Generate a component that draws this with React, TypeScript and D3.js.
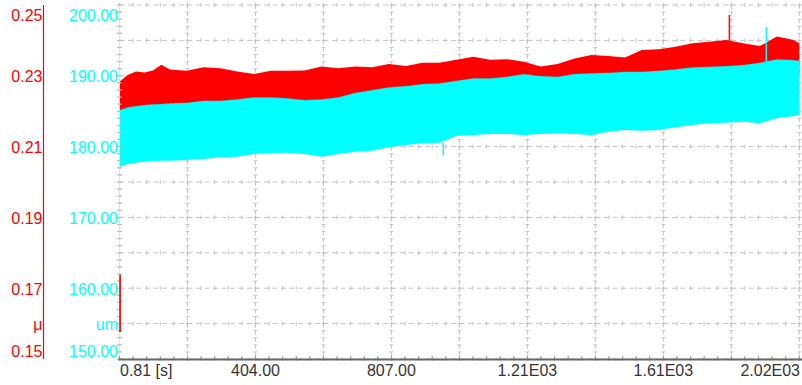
import React from "react";
import * as d3 from "d3";

// time of each envelope reading [s]
const times = [0.81, 25, 50, 75, 100, 125, 150, 200, 250, 300, 350, 400, 450, 500, 550, 600, 650, 700, 750, 800, 850, 900, 950, 1000, 1050, 1100, 1150, 1200, 1250, 1300, 1350, 1400, 1450, 1500, 1550, 1600, 1650, 1700, 1750, 1800, 1850, 1900, 1950, 2000, 2016.8];

// friction coefficient μ (red, left axis): upper and lower envelope of the noisy trace
const frictionUpper = [0.2283, 0.2302, 0.2312, 0.2309, 0.2315, 0.2331, 0.2318, 0.2314, 0.2324, 0.2321, 0.2312, 0.2305, 0.2314, 0.2314, 0.2315, 0.2326, 0.2321, 0.2326, 0.2324, 0.2333, 0.2328, 0.2337, 0.2337, 0.2345, 0.2354, 0.2345, 0.2347, 0.234, 0.2326, 0.2333, 0.2349, 0.2359, 0.2356, 0.2352, 0.2373, 0.2375, 0.2382, 0.2392, 0.2396, 0.2401, 0.2392, 0.2384, 0.2411, 0.2401, 0.2392];
const frictionLower = [0.2163, 0.2171, 0.2175, 0.2178, 0.2179, 0.218, 0.2182, 0.2184, 0.219, 0.219, 0.2194, 0.2199, 0.2199, 0.2196, 0.2192, 0.2194, 0.2199, 0.2212, 0.222, 0.2227, 0.2231, 0.2237, 0.2239, 0.2246, 0.2253, 0.2253, 0.2258, 0.2265, 0.2259, 0.2258, 0.2265, 0.2267, 0.2269, 0.2272, 0.2272, 0.2275, 0.2278, 0.2284, 0.2286, 0.2288, 0.2291, 0.2297, 0.2307, 0.2305, 0.2303];

// displacement [um] (cyan, second axis): upper and lower envelope
const displacementUpper = [185.17, 185.55, 185.73, 185.88, 185.97, 186.02, 186.11, 186.21, 186.49, 186.49, 186.68, 186.96, 186.96, 186.82, 186.58, 186.68, 186.96, 187.62, 187.99, 188.37, 188.56, 188.84, 188.94, 189.31, 189.64, 189.64, 189.88, 190.25, 189.97, 189.88, 190.25, 190.35, 190.44, 190.58, 190.58, 190.73, 190.91, 191.2, 191.29, 191.38, 191.53, 191.85, 192.33, 192.23, 192.14];
const displacementLower = [177.17, 177.54, 177.73, 177.87, 177.97, 178.01, 178.01, 178.11, 178.25, 178.48, 178.58, 178.95, 179.05, 179.14, 178.95, 178.58, 178.95, 179.28, 179.43, 179.9, 180.23, 180.46, 180.56, 181.5, 181.64, 181.78, 181.78, 181.64, 181.78, 181.87, 181.78, 181.64, 182.11, 182.34, 182.25, 182.34, 182.72, 183.05, 183.29, 183.38, 183.52, 183.29, 183.99, 184.32, 184.46];

// isolated spikes: [time, from, to]
const frictionSpikes = [[0.81, 0.1576, 0.1738], [1808, 0.2385, 0.2472]];
const displacementSpikes = [[1919, 191.4, 196.9], [961, 180.6, 178.75]];

// axis labels
const timeTickLabels = ["0.81 [s]", "404.00", "807.00", "1.21E03", "1.61E03", "2.02E03"];
const timeTickValues = [0.81, 404.01, 807.21, 1210.41, 1613.61, 2016.81];
const muTickValues = [0.25, 0.23, 0.21, 0.19, 0.17, 0.16, 0.15];
const muTickLabels = ["0.25", "0.23", "0.21", "0.19", "0.17", "μ", "0.15"];
const umTickValues = [200, 190, 180, 170, 160, 155, 150];
const umTickLabels = ["200.00", "190.00", "180.00", "170.00", "160.00", "um", "150.00"];

const RED = "#ff0000";
const CYAN = "#00ffff";
const GRID = "#c4c4c4";
const FONT = "'Liberation Sans', Arial, sans-serif";

export default function App() {
  const W = 802, H = 385;
  const left = 119.5, right = 799.3, top = 5, bottom = 359;
  const x = d3.scaleLinear().domain([0.81, 2016.81]).range([left, right]);
  const y = d3.scaleLinear().domain([150, 200]).range([bottom, top]);
  const yMu = d3.scaleLinear().domain([0.15, 0.25]).range([bottom, top]);

  const redArea = d3.area<number>()
    .x((_, i) => x(times[i]))
    .y0((_, i) => yMu(frictionLower[i]))
    .y1((_, i) => yMu(frictionUpper[i]));
  const cyanArea = d3.area<number>()
    .x((_, i) => x(times[i]))
    .y0((_, i) => y(displacementLower[i]))
    .y1((_, i) => y(displacementUpper[i]));
  const cyanTopLine = d3.line<number>()
    .x((_, i) => x(times[i]))
    .y((_, i) => y(displacementUpper[i]));

  const xMajor = d3.range(11).map(i => 0.81 + i * 201.6);
  const xMinor = d3.range(51).map(i => 0.81 + i * 40.32);
  const yMajor = d3.range(150, 200.01, 5);
  const yMinor = d3.range(150, 200.01, 1);

  return (
    <svg width={W} height={H} style={{ position: "absolute", left: 0, top: 0, display: "block", background: "#fff" }}>
      <defs>
        <clipPath id="plot">
          <rect x={left} y={top} width={801 - left} height={bottom - top} />
        </clipPath>
      </defs>
      {/* grid */}
      <g>
        {yMajor.map(v => (
          <g key={"hy" + v}>
            <line x1={left} x2={801} y1={y(v)} y2={y(v)} stroke={GRID} strokeWidth={1} strokeDasharray="5,3.5" />
            {xMinor.map(t => (
              <line key={t} x1={x(t)} x2={x(t)} y1={y(v) - 2} y2={y(v) + 2} stroke={GRID} strokeWidth={1} />
            ))}
          </g>
        ))}
        {xMajor.map(t => (
          <g key={"vx" + t}>
            <line x1={x(t)} x2={x(t)} y1={top} y2={bottom} stroke={GRID} strokeWidth={1} strokeDasharray="4,3.08" />
            {yMinor.map(v => (
              <line key={v} x1={x(t) - 2} x2={x(t) + 2} y1={y(v)} y2={y(v)} stroke={GRID} strokeWidth={1} />
            ))}
          </g>
        ))}
      </g>
      {/* data */}
      <g clipPath="url(#plot)">
        <path d={redArea(times) || ""} fill={RED} />
        {frictionSpikes.map((s, i) => (
          <line key={"fs" + i} x1={x(s[0]) + 0.5} x2={x(s[0]) + 0.5} y1={yMu(s[1])} y2={yMu(s[2])} stroke={RED} strokeWidth={1.5} />
        ))}
        <path d={cyanArea(times) || ""} fill={CYAN} />
        <path d={cyanTopLine(times) || ""} fill="none" stroke="#b04040" strokeOpacity={0.35} strokeWidth={1} />
        {displacementSpikes.map((s, i) => (
          <line key={"ds" + i} x1={x(s[0])} x2={x(s[0])} y1={y(s[1])} y2={y(s[2])} stroke={CYAN} strokeWidth={1.5} />
        ))}
      </g>
      {/* cyan axis on plot left */}
      <line x1={left} x2={left} y1={top} y2={bottom} stroke="#9ff" strokeWidth={1} />
      {yMinor.map(v => (
        <line key={"lt" + v} x1={left - 2.5} x2={left + 2.5} y1={y(v)} y2={y(v)} stroke="#bbb" strokeWidth={1} />
      ))}
      <line x1={left + 0.5} x2={left + 0.5} y1={yMu(frictionSpikes[0][2])} y2={yMu(frictionSpikes[0][1])} stroke={RED} strokeWidth={1.5} />
      {/* bottom axis */}
      {xMinor.map(t => (
        <line key={"bt" + t} x1={x(t)} x2={x(t)} y1={bottom - 3} y2={bottom} stroke="#999" strokeWidth={1} />
      ))}
      <line x1={left - 1} x2={802} y1={bottom + 0.5} y2={bottom + 0.5} stroke="#666" strokeWidth={2} />
      {timeTickLabels.map((lab, i) => {
        const first = i === 0, last = i === timeTickLabels.length - 1;
        return (
          <text key={"xl" + i} x={first ? left + 0.5 : last ? 800 : x(timeTickValues[i])} y={375.5}
            textAnchor={first ? "start" : last ? "end" : "middle"} fontFamily={FONT} fontSize={16} fill="#333">{lab}</text>
        );
      })}
      {/* red μ axis */}
      <line x1={43.5} x2={43.5} y1={top} y2={bottom} stroke={RED} strokeWidth={1.2} />
      {muTickLabels.map((lab, i) => {
        const yy = Math.min(Math.max(yMu(muTickValues[i]), 14), 350) + 1;
        return (
          <text key={"ml" + i} x={42.5} y={yy} textAnchor="end" dominantBaseline="central" fontFamily={FONT} fontSize={16} fill={RED}>{lab}</text>
        );
      })}
      {umTickLabels.map((lab, i) => {
        const yy = Math.min(Math.max(y(umTickValues[i]), 14), 350) + 1;
        return (
          <text key={"ul" + i} x={118} y={yy} textAnchor="end" dominantBaseline="central" fontFamily={FONT} fontSize={16} fill={CYAN}>{lab}</text>
        );
      })}
    </svg>
  );
}
